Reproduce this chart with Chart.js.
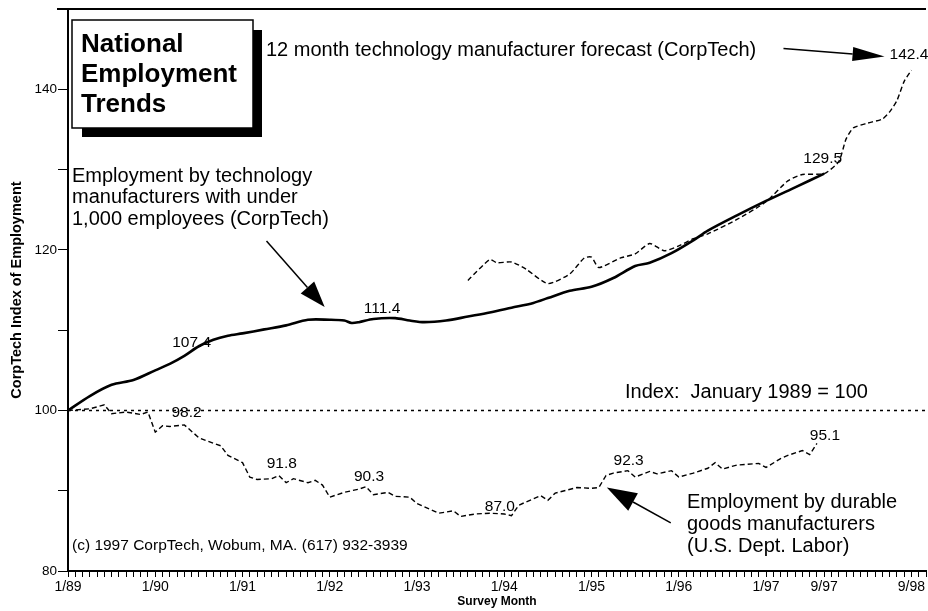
<!DOCTYPE html>
<html>
<head>
<meta charset="utf-8">
<script src="https://cdn.jsdelivr.net/npm/chart.js@4/dist/chart.umd.min.js"></script>
<style>
  html, body { margin: 0; padding: 0; background: #fff; }
  #wrap { width: 928px; height: 611px; }
</style>
</head>
<body>
<div id="wrap"><canvas id="chart" width="928" height="611"></canvas></div>
<script>
// months counted from 1/89 = 0
const techMonths = [0,3,6,9,12,14,16,18,20,22,24,27,30,33,36,38,39,40,42,45,47,49,52,55,58,61,64,66,69,72,75,78,80,83,86,88,92,96,100,104];
const techValues = [100,101.8,103.2,103.8,105.0,105.8,106.8,108.0,108.8,109.3,109.6,110.1,110.6,111.3,111.3,111.2,110.9,111.0,111.4,111.5,111.2,111.0,111.2,111.7,112.2,112.8,113.4,114.0,114.9,115.4,116.5,118.0,118.4,119.6,121.2,122.4,124.3,126.1,127.8,129.5];

const durableMonths = [0,3,5,6,8,10,11,12,13,14,16,18,20,21,22,24,25,26,28,29,30,31,33,34,35,36,38,40,41,42,44,45,47,48,51,53,54,56,58,60,61,62,65,66,67,70,72,73,74,75,77,78,80,81,83,84,86,88,89,90,92,95,96,98,99,101,102,103];
const durableValues = [100,100.2,100.7,99.6,99.8,99.5,99.8,97.3,98.1,98.0,98.2,96.6,95.9,95.6,94.4,93.5,91.7,91.4,91.5,91.9,91.0,91.5,91.0,91.3,90.7,89.2,89.8,90.2,90.5,89.5,89.8,89.3,89.2,88.4,87.2,87.5,86.8,87.1,87.2,87.1,86.9,88.2,89.4,88.8,89.7,90.4,90.3,90.4,91.9,92.2,92.5,91.7,92.4,92.1,92.5,91.7,92.2,92.8,93.5,92.7,93.2,93.4,92.9,94.0,94.4,95.0,94.5,95.9];

const forecastMonths = [55,58,59,61,63,66,69,71,72,73,76,78,80,82,84,86,88,92,96,99,101,104,106,107,108,110,112,113,114,115,116];
const forecastValues = [116.2,118.8,118.4,118.5,117.6,115.8,117.0,119.0,119.1,117.8,119.0,119.5,120.8,119.9,120.5,121.4,122.0,123.8,126.0,128.6,129.4,129.5,131.0,133.8,135.2,135.8,136.3,137.2,138.6,141.0,142.4];

const indexMonths = [0, 118];
const indexValues = [100, 100];

const xTickMonths = [0,12,24,36,48,60,72,84,96,104,116];
const xTickLabels = ['1/89','1/90','1/91','1/92','1/93','1/94','1/95','1/96','1/97','9/97','9/98'];
const yTickLabels = [80, 100, 120, 140];

// value callouts: [month, value, text, pixel offset up]
const callouts = [
  [17, 107.4, '107.4', 8],
  [43.2, 111.4, '111.4', 10],
  [103.8, 129.5, '129.5', 15],
  [16.3, 98.2, '98.2', 12],
  [29.4, 91.8, '91.8', 13],
  [41.4, 90.3, '90.3', 12],
  [59.4, 87.0, '87.0', 8],
  [77.1, 92.3, '92.3', 12],
  [104.1, 95.1, '95.1', 14]
];

const FONT = '"Liberation Sans", Arial, Helvetica, sans-serif';
const pts = (xs, ys) => xs.map((m, i) => ({ x: m, y: ys[i] }));

function arrow(ctx, x1, y1, x2, y2, len, half) {
  const a = Math.atan2(y2 - y1, x2 - x1);
  const bx = x2 - len * Math.cos(a), by = y2 - len * Math.sin(a);
  ctx.beginPath();
  ctx.moveTo(x1, y1);
  ctx.lineTo(bx, by);
  ctx.lineWidth = 1.5;
  ctx.stroke();
  ctx.beginPath();
  ctx.moveTo(x2, y2);
  ctx.lineTo(bx + half * Math.sin(a), by - half * Math.cos(a));
  ctx.lineTo(bx - half * Math.sin(a), by + half * Math.cos(a));
  ctx.closePath();
  ctx.fill();
}

const notes = {
  id: 'notes',
  afterDatasetsDraw(chart) {
    const { ctx, chartArea: ca, scales: { x, y } } = chart;
    const px = m => x.getPixelForValue(m), py = v => y.getPixelForValue(v);
    ctx.save();
    ctx.fillStyle = '#000';
    ctx.strokeStyle = '#000';

    // top frame
    ctx.lineWidth = 2;
    ctx.beginPath();
    ctx.moveTo(ca.left - 11, ca.top);
    ctx.lineTo(ca.right, ca.top);
    ctx.stroke();

    // title box with shadow
    ctx.fillRect(82, 30, 180, 107);
    ctx.fillStyle = '#fff';
    ctx.fillRect(72, 20, 181, 108);
    ctx.lineWidth = 1.5;
    ctx.strokeRect(72, 20, 181, 108);
    ctx.fillStyle = '#000';
    ctx.font = 'bold 26px ' + FONT;
    ctx.textBaseline = 'alphabetic';
    ctx.textAlign = 'left';
    ctx.fillText('National', 81, 52);
    ctx.fillText('Employment', 81, 82);
    ctx.fillText('Trends', 81, 112);

    ctx.font = '20px ' + FONT;
    ctx.fillText('12 month technology manufacturer forecast (CorpTech)', 266, 56);
    ctx.fillText('Employment by technology', 72, 182);
    ctx.fillText('manufacturers with under', 72, 203);
    ctx.fillText('1,000 employees (CorpTech)', 72, 225);
    ctx.fillText('Index:  January 1989 = 100', 625, 398);
    ctx.fillText('Employment by durable', 687, 508);
    ctx.fillText('goods manufacturers', 687, 530);
    ctx.fillText('(U.S. Dept. Labor)', 687, 552);
    ctx.font = '15.5px ' + FONT;
    ctx.fillText('(c) 1997 CorpTech, Wobum, MA. (617) 932-3939', 72, 550);

    // arrows (in data coordinates)
    arrow(ctx, px(98.4), py(145.1), px(112.3), py(144.1), 32, 7);
    arrow(ctx, px(27.3), py(121.1), px(35.3), py(112.9), 26, 9);
    arrow(ctx, px(82.9), py(86.0), px(74.1), py(90.4), 30, 10);

    // value labels
    ctx.font = '15.5px ' + FONT;
    ctx.textBaseline = 'middle';
    ctx.textAlign = 'left';
    ctx.fillText('142.4', px(112.3) + 5, py(144.1) - 2);
    ctx.textAlign = 'center';
    callouts.forEach(([m, v, t, up]) => ctx.fillText(t, px(m), py(v) - up));
    ctx.restore();
  }
};

new Chart(document.getElementById('chart'), {
  type: 'line',
  data: {
    datasets: [
      { label: 'Technology manufacturers', data: pts(techMonths, techValues), borderColor: '#000', borderWidth: 2.6, pointRadius: 0, tension: 0.3 },
      { label: 'Durable goods', data: pts(durableMonths, durableValues), borderColor: '#000', borderWidth: 1.4, borderDash: [5, 3], pointRadius: 0, tension: 0 },
      { label: 'Forecast', data: pts(forecastMonths, forecastValues), borderColor: '#000', borderWidth: 1.4, borderDash: [5, 3], pointRadius: 0, tension: 0.2 },
      { label: 'Index', data: pts(indexMonths, indexValues), borderColor: '#000', borderWidth: 1.4, borderDash: [3, 4], pointRadius: 0 }
    ]
  },
  options: {
    responsive: false,
    animation: false,
    layout: { padding: { top: 8, right: 0, left: 0, bottom: 0 } },
    plugins: { legend: { display: false }, tooltip: { enabled: false } },
    scales: {
      x: {
        type: 'linear', min: 0, max: 118,
        afterFit: s => { s.height = 40; },
        afterBuildTicks: s => { s.ticks = Array.from({ length: 119 }, (_, i) => ({ value: i })); },
        grid: { drawOnChartArea: false, tickLength: 6, color: '#000', tickWidth: 1 },
        border: { color: '#000', width: 2 },
        ticks: {
          autoSkip: false, maxRotation: 0, padding: 2,
          color: '#000', font: { family: FONT, size: 14 },
          callback: v => { const i = xTickMonths.indexOf(v); return i >= 0 ? xTickLabels[i] : ''; }
        },
        title: { display: true, text: 'Survey Month', color: '#000', font: { family: FONT, size: 12, weight: 'bold' }, padding: { top: 0, bottom: 2 } }
      },
      y: {
        min: 80, max: 150,
        afterFit: s => { s.width = 68; },
        grid: { drawOnChartArea: false, tickLength: 10, color: '#000', tickWidth: 1 },
        border: { color: '#000', width: 2 },
        ticks: {
          stepSize: 10, padding: 1, color: '#000', font: { family: FONT, size: 13.5 },
          callback: v => yTickLabels.includes(v) ? String(v) : ''
        },
        title: { display: true, text: 'CorpTech Index of Employment', color: '#000', font: { family: FONT, size: 14.5, weight: 'bold' }, padding: { top: 8, bottom: 0 } }
      }
    }
  },
  plugins: [notes]
});
</script>
</body>
</html>
